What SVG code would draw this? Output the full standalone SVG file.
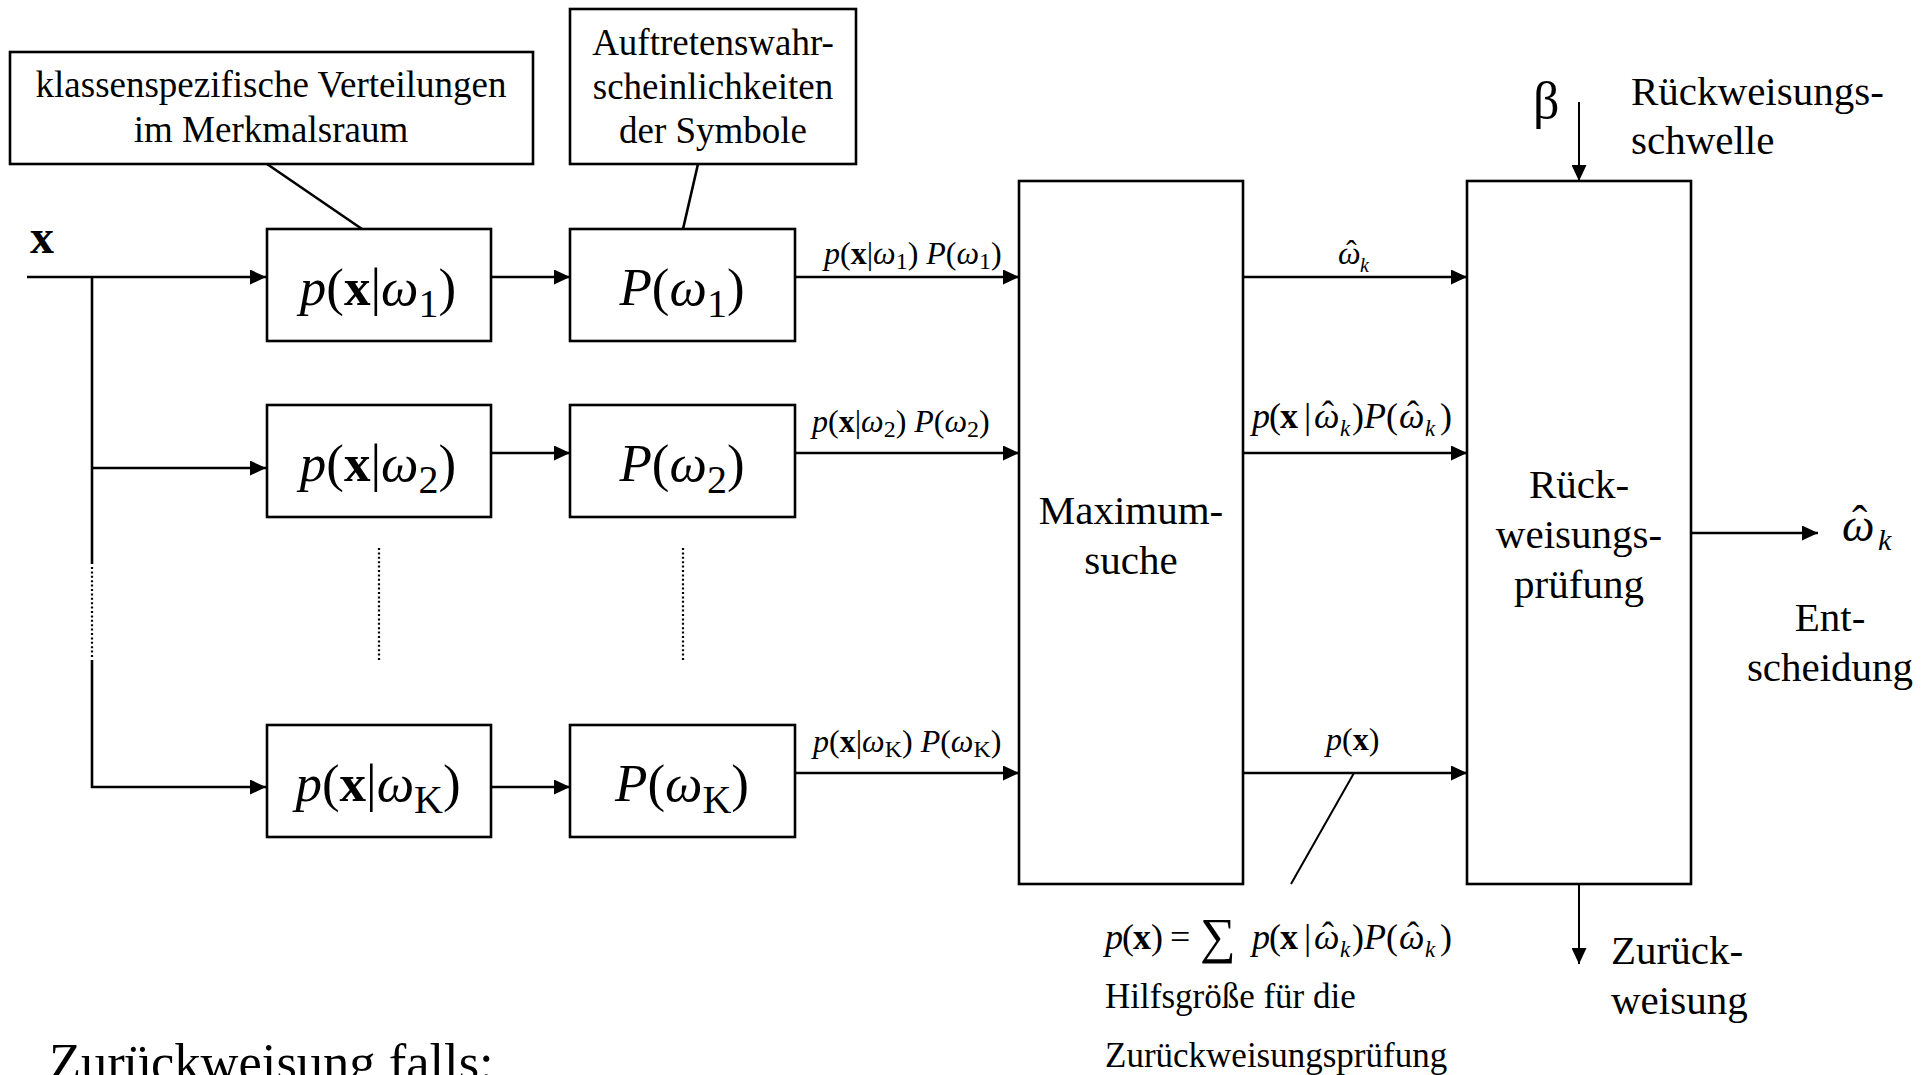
<svg xmlns="http://www.w3.org/2000/svg" width="1932" height="1075" viewBox="0 0 1932 1075">
<style>
.bx{fill:#fff;stroke:#000;stroke-width:2.6}
.ln{fill:none;stroke:#000;stroke-width:2.6}
.th{fill:none;stroke:#000;stroke-width:2}
.dt{fill:none;stroke:#000;stroke-width:2.2;stroke-dasharray:2 2.4}
.t{font-family:"Liberation Serif","Times New Roman",serif;fill:#000}
.i{font-style:italic}
.b{font-weight:bold}
.m{text-anchor:middle}
</style>
<defs>
<marker id="ah" markerUnits="userSpaceOnUse" markerWidth="17" markerHeight="15" refX="16" refY="7.5" orient="auto">
<path d="M0,0 L16,7.5 L0,15 Z" fill="#000"/>
</marker>
</defs>
<rect width="1932" height="1075" fill="#fff"/>

<g id="connectors">
<path class="ln" d="M27,277 H266" marker-end="url(#ah)"/>
<path class="ln" d="M92,277 V564"/>
<path class="dt" d="M92,567 V658"/>
<path class="ln" d="M92,660 V787 H266" marker-end="url(#ah)"/>
<path class="ln" d="M92,468 H266" marker-end="url(#ah)"/>
<path class="ln" d="M491,277 H570" marker-end="url(#ah)"/>
<path class="ln" d="M491,453 H570" marker-end="url(#ah)"/>
<path class="ln" d="M491,787 H570" marker-end="url(#ah)"/>
<path class="ln" d="M795,277 H1019" marker-end="url(#ah)"/>
<path class="ln" d="M795,453 H1019" marker-end="url(#ah)"/>
<path class="ln" d="M795,773 H1019" marker-end="url(#ah)"/>
<path class="ln" d="M1243,277 H1467" marker-end="url(#ah)"/>
<path class="ln" d="M1243,453 H1467" marker-end="url(#ah)"/>
<path class="ln" d="M1243,773 H1467" marker-end="url(#ah)"/>
<path class="ln" d="M1691,533 H1818" marker-end="url(#ah)"/>
<path class="th" d="M1579,102 V181" marker-end="url(#ah)"/>
<path class="th" d="M1579,884 V964" marker-end="url(#ah)"/>
<path class="th" d="M1354,773 L1291,884"/>
<path class="ln" d="M267,164 L362,229"/>
<path class="ln" d="M698,164 L683,229"/>
<path class="dt" d="M379,548 V662"/>
<path class="dt" d="M683,548 V662"/>
</g>

<g id="note-klassen">
<rect class="bx" x="10" y="52" width="523" height="112"/>
<text class="t m" x="271" y="97" font-size="37">klassenspezifische Verteilungen</text>
<text class="t m" x="271" y="142" font-size="37">im Merkmalsraum</text>
</g>

<g id="note-auftreten">
<rect class="bx" x="570" y="9" width="286" height="155"/>
<text class="t m" x="713" y="55" font-size="37">Auftretenswahr-</text>
<text class="t m" x="713" y="99" font-size="37">scheinlichkeiten</text>
<text class="t m" x="713" y="143" font-size="37">der Symbole</text>
</g>

<g id="input-x">
<text class="t b" x="30" y="253" font-size="48">x</text>
</g>

<g id="px1">
<rect class="bx" x="267" y="229" width="224" height="112"/>
<text class="t m" x="378" y="305" font-size="53"><tspan class="i">p</tspan>(<tspan class="b">x</tspan>|<tspan class="i">ω</tspan><tspan font-size="40" dy="12">1</tspan><tspan dy="-12">)</tspan></text>
</g>
<g id="px2">
<rect class="bx" x="267" y="405" width="224" height="112"/>
<text class="t m" x="378" y="481" font-size="53"><tspan class="i">p</tspan>(<tspan class="b">x</tspan>|<tspan class="i">ω</tspan><tspan font-size="40" dy="12">2</tspan><tspan dy="-12">)</tspan></text>
</g>
<g id="pxK">
<rect class="bx" x="267" y="725" width="224" height="112"/>
<text class="t m" x="378" y="801" font-size="53"><tspan class="i">p</tspan>(<tspan class="b">x</tspan>|<tspan class="i">ω</tspan><tspan font-size="40" dy="12">K</tspan><tspan dy="-12">)</tspan></text>
</g>

<g id="P1">
<rect class="bx" x="570" y="229" width="225" height="112"/>
<text class="t m" x="682" y="305" font-size="53"><tspan class="i">P</tspan>(<tspan class="i">ω</tspan><tspan font-size="40" dy="12">1</tspan><tspan dy="-12">)</tspan></text>
</g>
<g id="P2">
<rect class="bx" x="570" y="405" width="225" height="112"/>
<text class="t m" x="682" y="481" font-size="53"><tspan class="i">P</tspan>(<tspan class="i">ω</tspan><tspan font-size="40" dy="12">2</tspan><tspan dy="-12">)</tspan></text>
</g>
<g id="PK">
<rect class="bx" x="570" y="725" width="225" height="112"/>
<text class="t m" x="682" y="801" font-size="53"><tspan class="i">P</tspan>(<tspan class="i">ω</tspan><tspan font-size="40" dy="12">K</tspan><tspan dy="-12">)</tspan></text>
</g>

<g id="maximumsuche">
<rect class="bx" x="1019" y="181" width="224" height="703"/>
<text class="t m" x="1131" y="524" font-size="41">Maximum-</text>
<text class="t m" x="1131" y="574" font-size="41">suche</text>
</g>

<g id="rueckweisungspruefung">
<rect class="bx" x="1467" y="181" width="224" height="703"/>
<text class="t m" x="1579" y="498" font-size="41">Rück-</text>
<text class="t m" x="1579" y="548" font-size="41">weisungs-</text>
<text class="t m" x="1579" y="598" font-size="41">prüfung</text>
</g>

<g id="labels">
<text class="t" x="824" y="264" font-size="32"><tspan class="i">p</tspan>(<tspan class="b">x</tspan>|<tspan class="i">ω</tspan><tspan font-size="24" dy="5">1</tspan><tspan dy="-5">) </tspan><tspan class="i">P</tspan>(<tspan class="i">ω</tspan><tspan font-size="24" dy="5">1</tspan><tspan dy="-5">)</tspan></text>
<text class="t" x="812" y="432" font-size="32"><tspan class="i">p</tspan>(<tspan class="b">x</tspan>|<tspan class="i">ω</tspan><tspan font-size="24" dy="5">2</tspan><tspan dy="-5">) </tspan><tspan class="i">P</tspan>(<tspan class="i">ω</tspan><tspan font-size="24" dy="5">2</tspan><tspan dy="-5">)</tspan></text>
<text class="t" x="813" y="752" font-size="32"><tspan class="i">p</tspan>(<tspan class="b">x</tspan>|<tspan class="i">ω</tspan><tspan font-size="24" dy="5">K</tspan><tspan dy="-5">) </tspan><tspan class="i">P</tspan>(<tspan class="i">ω</tspan><tspan font-size="24" dy="5">K</tspan><tspan dy="-5">)</tspan></text>

<text class="t" y="264" font-size="32"><tspan class="i" x="1338">ω</tspan><tspan x="1346" dy="-2">ˆ</tspan><tspan class="i" x="1360" dy="10" font-size="20">k</tspan></text>

<text class="t" y="428" font-size="36"><tspan class="i" x="1252">p</tspan><tspan x="1269">(</tspan><tspan class="b" x="1280">x</tspan><tspan x="1304">|</tspan><tspan class="i" x="1314">ω</tspan><tspan x="1322" dy="-2">ˆ</tspan><tspan class="i" x="1340" dy="10" font-size="23">k</tspan><tspan x="1352" dy="-8">)</tspan><tspan class="i" x="1364">P</tspan><tspan x="1386">(</tspan><tspan class="i" x="1399">ω</tspan><tspan x="1407" dy="-2">ˆ</tspan><tspan class="i" x="1425" dy="10" font-size="23">k</tspan><tspan x="1440" dy="-8">)</tspan></text>

<text class="t" x="1326" y="750" font-size="32"><tspan class="i">p</tspan>(<tspan class="b">x</tspan>)</text>

<text class="t" x="1533" y="118" font-size="52">β</text>
<text class="t" x="1631" y="105" font-size="41">Rückweisungs-</text>
<text class="t" x="1631" y="154" font-size="41">schwelle</text>

<text class="t" y="541" font-size="46"><tspan class="i" x="1842">ω</tspan><tspan x="1852" dy="-3">ˆ</tspan><tspan class="i" x="1878" dy="12" font-size="30">k</tspan></text>
<text class="t m" x="1830" y="631" font-size="41">Ent-</text>
<text class="t m" x="1830" y="681" font-size="41">scheidung</text>

<text class="t" x="1611" y="964" font-size="41">Zurück-</text>
<text class="t" x="1611" y="1014" font-size="41">weisung</text>

<text class="t" y="949" font-size="36"><tspan class="i" x="1105">p</tspan><tspan x="1122">(</tspan><tspan class="b" x="1133">x</tspan><tspan x="1151">)</tspan><tspan x="1170">=</tspan><tspan x="1200" dy="4" font-size="50">∑</tspan><tspan class="i" x="1252" dy="-4">p</tspan><tspan x="1269">(</tspan><tspan class="b" x="1280">x</tspan><tspan x="1304">|</tspan><tspan class="i" x="1314">ω</tspan><tspan x="1322" dy="-2">ˆ</tspan><tspan class="i" x="1340" dy="10" font-size="23">k</tspan><tspan x="1352" dy="-8">)</tspan><tspan class="i" x="1364">P</tspan><tspan x="1386">(</tspan><tspan class="i" x="1399">ω</tspan><tspan x="1407" dy="-2">ˆ</tspan><tspan class="i" x="1425" dy="10" font-size="23">k</tspan><tspan x="1440" dy="-8">)</tspan></text>
<text class="t" x="1105" y="1008" font-size="35">Hilfsgröße für die</text>
<text class="t" x="1105" y="1067" font-size="35">Zurückweisungsprüfung</text>

<text class="t" x="49" y="1080" font-size="52.5">Zurückweisung falls:</text>
</g>
</svg>
